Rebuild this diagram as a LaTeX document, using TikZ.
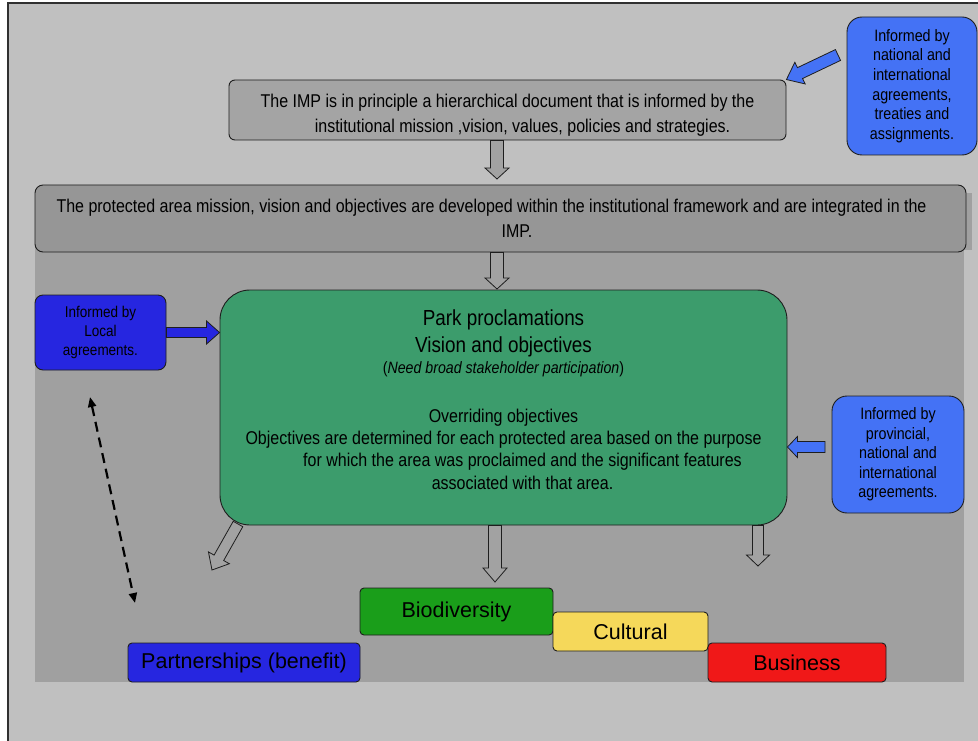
\documentclass[tikz,border=0pt]{standalone}
\usepackage{fontspec}
\setmainfont{Liberation Sans}
\newfontfamily\narrowfont[FakeStretch=0.865]{Liberation Sans}
\usepackage{tikz}
\usetikzlibrary{arrows.meta,calc}

\definecolor{framegray}{HTML}{C0C0C0}
\definecolor{frameline}{HTML}{303030}
\definecolor{panelgray}{HTML}{A0A0A0}
\definecolor{impgray}{HTML}{A4A4A4}
\definecolor{pagray}{HTML}{969696}
\definecolor{arrowgray}{HTML}{A2A2A2}
\definecolor{boxline}{HTML}{1E1E1E}
\definecolor{parkgreen}{HTML}{3C9C6C}
\definecolor{lightblue}{HTML}{4472F5}
\definecolor{deepblue}{HTML}{2626E0}
\definecolor{biogreen}{HTML}{1A9E1A}
\definecolor{cultyellow}{HTML}{F5D85A}
\definecolor{busred}{HTML}{F01818}

\begin{document}
\begin{tikzpicture}[x=1pt, y=-1pt,
    every node/.style={align=center, inner sep=0pt, text=black},
    box/.style={draw=boxline, line width=0.9pt},
    bodytext/.style={font=\narrowfont\fontsize{18.5}{25}\selectfont},
    smalltext/.style={font=\narrowfont\fontsize{16.5}{19.6}\selectfont},
    bigtext/.style={font=\fontsize{21.5}{26}\selectfont},
    fatarrow/.style n args={3}{draw=boxline, line width=0.8pt, line join=miter,
      to path={($(\tikztostart)!#1!90:(\tikztotarget)$)
        -- ($(\tikztotarget)!#3!(\tikztostart)!#1!-90:(\tikztostart)$)
        -- ($(\tikztotarget)!#3!(\tikztostart)!#2!-90:(\tikztostart)$)
        -- (\tikztotarget)
        -- ($(\tikztotarget)!#3!(\tikztostart)!#2!90:(\tikztostart)$)
        -- ($(\tikztotarget)!#3!(\tikztostart)!#1!90:(\tikztostart)$)
        -- ($(\tikztostart)!#1!-90:(\tikztotarget)$) -- cycle}},
    dashlink/.style={line width=2.2pt, dash pattern=on 10pt off 6pt,
      {Triangle[length=10pt,width=8pt]}-{Triangle[length=10pt,width=8pt]}}]

\path[use as bounding box, fill=white] (0,0) rectangle (978,741);
\fill[framegray] (8,3) rectangle (978,741);
\draw[frameline, line width=2.5pt] (8,741) -- (8,3) -- (978,3);
\fill[panelgray] (35,240) rectangle (964,682);
\fill[panelgray] (960,193) rectangle (972,250);

\node[box, fill=impgray, rounded corners=6pt, minimum width=557pt, minimum height=60pt, bodytext] (imp) at (507.5,110)
  {\rule{0pt}{24pt}The IMP is in principle a hierarchical document that is informed by the\\
   \hspace*{30pt}institutional mission ,vision, values, policies and strategies.};
\node[box, fill=pagray, rounded corners=8pt, minimum width=931pt, minimum height=67pt, bodytext] (pa) at (500.5,218.5)
  {The protected area mission, vision and objectives are developed within the institutional framework and are integrated in the\hspace*{18pt}\\
   \hspace*{33pt}IMP.};
\node[box, fill=lightblue, rounded corners=15pt, minimum width=130pt, minimum height=138pt, smalltext] (natinfo) at (912,86)
  {Informed by\\national and\\international\\agreements,\\treaties and\\assignments.};
\node[box, fill=parkgreen, rounded corners=30pt, minimum width=567pt, minimum height=235pt] (green) at (503.5,407.5) {};
\node[font=\narrowfont\fontsize{21.8}{27}\selectfont] (parktitle) at (503.5,333)
  {Park proclamations\\Vision and objectives};
\node[font=\narrowfont\fontsize{16.4}{20}\selectfont] (stakeholder) at (503.5,369)
  {(\textit{Need broad stakeholder participation})};
\node[font=\narrowfont\fontsize{18.5}{22.4}\selectfont] (overriding) at (503.5,449)
  {Overriding objectives\\
   Objectives are determined for each protected area based on the purpose\\
   \hspace*{38pt}for which the area was proclaimed and the significant features\\
   \hspace*{38pt}associated with that area.};
\node[box, fill=deepblue, rounded corners=8pt, minimum width=131pt, minimum height=75pt, font=\narrowfont\fontsize{15.6}{19}\selectfont] (locinfo) at (100.5,332.5)
  {Informed by\\Local\\agreements.};
\node[box, fill=lightblue, rounded corners=15pt, minimum width=132pt, minimum height=117pt, smalltext] (provinfo) at (898,454.5)
  {Informed by\\provincial,\\national and\\international\\agreements.};

\node[box, fill=biogreen, rounded corners=4pt, minimum width=193pt, minimum height=47pt, bigtext] (bio) at (456.5,611.5) {Biodiversity};
\node[box, fill=cultyellow, rounded corners=4pt, minimum width=155pt, minimum height=39pt, bigtext] (cult) at (630.5,631.5) {Cultural};
\node[box, fill=busred, rounded corners=4pt, minimum width=178pt, minimum height=39pt, bigtext] (bus) at (797,662.5) {Business};
\node[box, fill=deepblue, rounded corners=4pt, minimum width=232pt, minimum height=39pt, bigtext] (partner) at (244,662.5) {Partnerships (benefit)};

\coordinate (nattail) at (838,55);
\coordinate (tipimp) at (497,179);
\coordinate (tipgreen) at (497,289);
\coordinate (provtail) at (825,447);
\coordinate (diagtail) at (238,524);
\coordinate (diagtip) at (212,570);
\coordinate (downtip) at (495,582);
\coordinate (righttip) at (758,566);
\coordinate (dashtop) at (90,397);
\coordinate (dashbot) at (135,603);

\draw [fatarrow={6pt}{12pt}{15pt}, fill=lightblue] (nattail) to (imp.north east);
\draw [fatarrow={6.5pt}{12pt}{11pt}, fill=arrowgray] ($(imp.south)+(-10.5,0)$) to (tipimp);
\draw [fatarrow={6.5pt}{12pt}{11pt}, fill=arrowgray] (pa.south -| tipgreen) to (tipgreen);
\draw [fatarrow={5pt}{11.5pt}{13pt}, fill=deepblue] (locinfo.east) to (green.west |- locinfo.east);
\draw [fatarrow={5.5pt}{10.5pt}{10pt}, fill=lightblue] (provtail) to (green.east |- provtail);
\draw [fatarrow={5.5pt}{12pt}{14pt}, fill=arrowgray] (diagtail) to (diagtip);
\draw [fatarrow={6.5pt}{12pt}{14pt}, fill=arrowgray] (green.south -| downtip) to (downtip);
\draw [fatarrow={5.5pt}{11.5pt}{11pt}, fill=arrowgray] (green.south -| righttip) to (righttip);
\draw [dashlink] (dashtop) -- (dashbot);
\end{tikzpicture}
\end{document}
